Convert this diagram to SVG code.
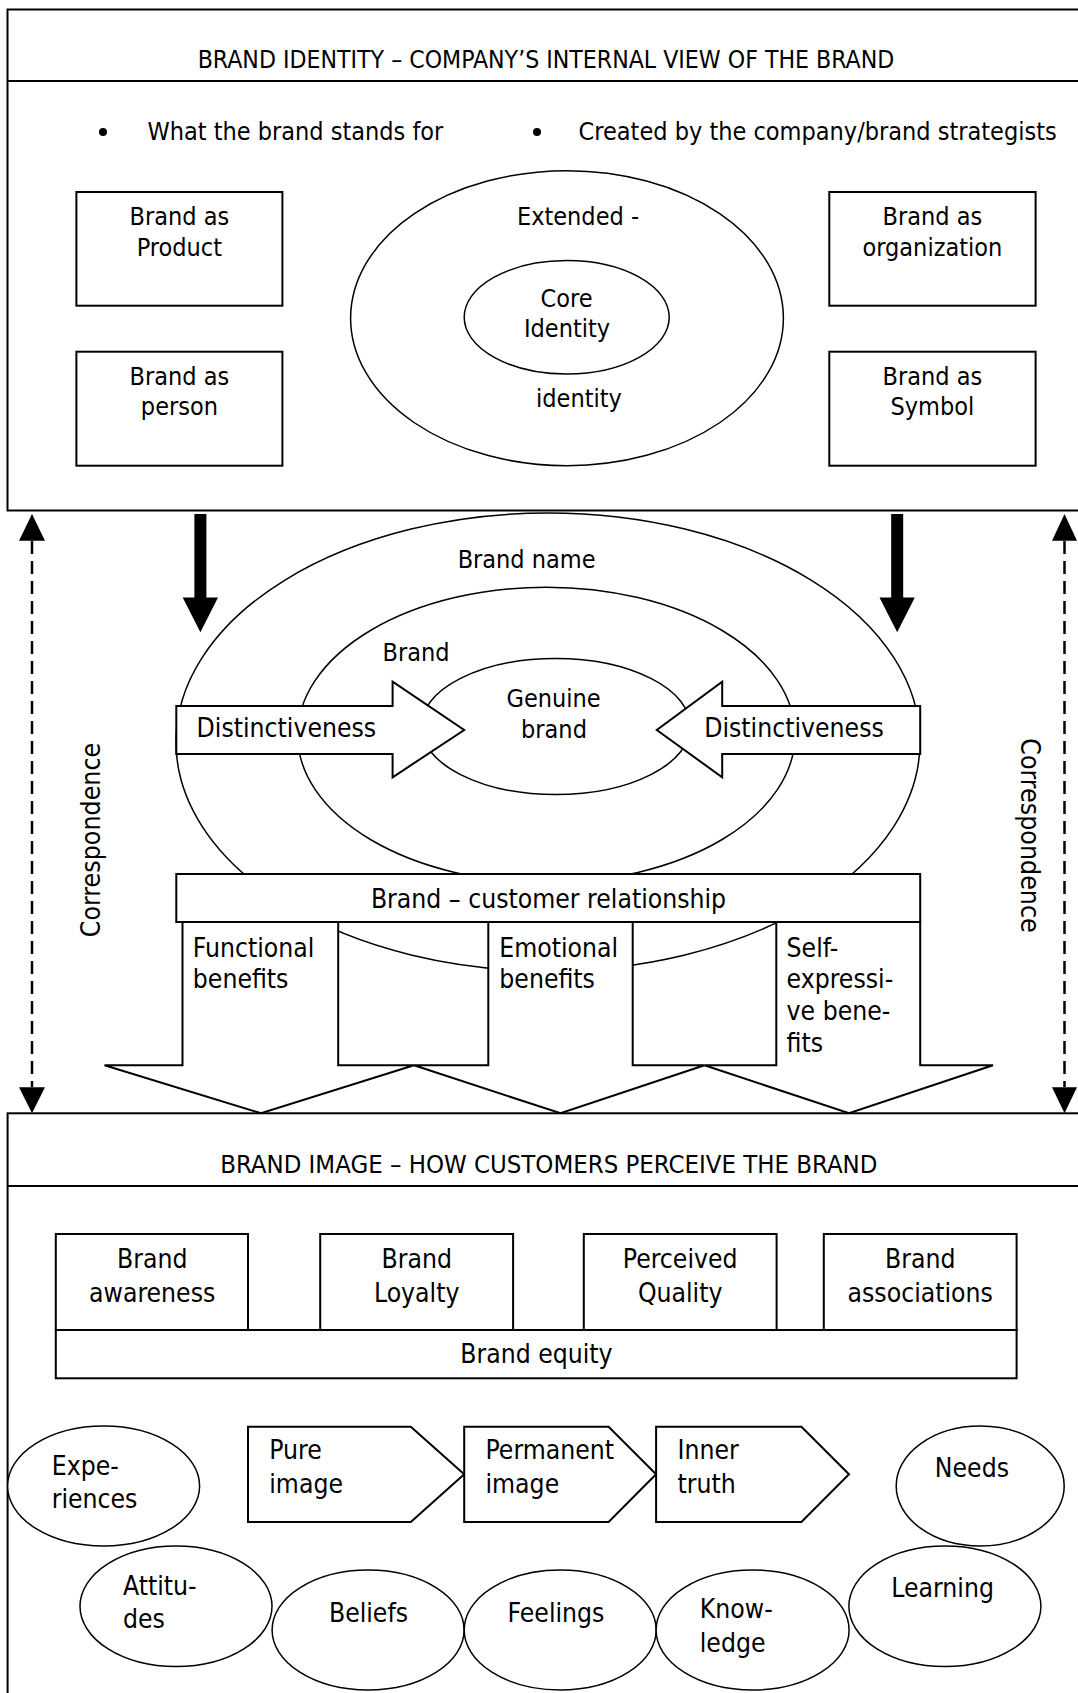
<svg xmlns="http://www.w3.org/2000/svg" width="1078" height="1693" viewBox="0 0 1078 1693">
<style>
text { font-family: 'DejaVu Sans Condensed', 'DejaVu Sans', sans-serif; font-stretch: condensed; font-size: 25px; fill: #000; }
.m { text-anchor: middle; }
.b { font-size: 26.3px; }
.box { fill: #fff; stroke: #000; stroke-width: 2; }
.ell { fill: none; stroke: #000; stroke-width: 1.5; }
.ellw { fill: #fff; stroke: #000; stroke-width: 1.5; }
.ln { stroke: #000; stroke-width: 2; fill: none; }
.dash { stroke: #000; stroke-width: 2.5; stroke-dasharray: 13 7; fill: none; }
.solid { fill: #000; stroke: none; }
</style>
<rect width="1078" height="1693" fill="#fff"/>

<g id="brand-identity">
  <rect class="box" x="7.5" y="9.5" width="1085" height="501"/>
  <line class="ln" x1="7.5" y1="81" x2="1090" y2="81"/>
  <text class="m" x="546" y="68.3" style="font-size:24.6px">BRAND IDENTITY – COMPANY’S INTERNAL VIEW OF THE BRAND</text>
  <circle cx="103" cy="132" r="4"/>
  <text x="147.4" y="140">What the brand stands for</text>
  <circle cx="537" cy="132" r="4"/>
  <text x="578.6" y="140">Created by the company/brand strategists</text>
</g>

<g id="brand-as-product">
  <rect class="box" x="76.4" y="192" width="206" height="113.7"/>
  <text class="m" x="179.4" y="225.3">Brand as</text>
  <text class="m" x="179.4" y="256">Product</text>
</g>
<g id="brand-as-person">
  <rect class="box" x="76.4" y="351.7" width="206" height="114"/>
  <text class="m" x="179.4" y="385">Brand as</text>
  <text class="m" x="179.4" y="415">person</text>
</g>
<g id="brand-as-organization">
  <rect class="box" x="829.3" y="192" width="206.3" height="113.7"/>
  <text class="m" x="932.4" y="225.3">Brand as</text>
  <text class="m" x="932.4" y="256">organization</text>
</g>
<g id="brand-as-symbol">
  <rect class="box" x="829.3" y="351.7" width="206.3" height="114"/>
  <text class="m" x="932.4" y="385">Brand as</text>
  <text class="m" x="932.4" y="415">Symbol</text>
</g>
<g id="extended-identity">
  <ellipse class="ell" cx="567" cy="318.2" rx="216.4" ry="147.5"/>
  <text class="m" x="578" y="225">Extended -</text>
  <text class="m" x="579" y="406.7">identity</text>
</g>
<g id="core-identity">
  <ellipse class="ell" cx="566.7" cy="317.3" rx="102.5" ry="56.7"/>
  <text class="m" x="566.6" y="306.7">Core</text>
  <text class="m" x="567" y="337.3">Identity</text>
</g>

<g id="brand-name">
  <ellipse class="ell" cx="548" cy="742" rx="372" ry="229"/>
  <text class="m" x="526.6" y="568.3">Brand name</text>
</g>
<g id="brand">
  <ellipse class="ell" cx="546.3" cy="735" rx="248.7" ry="147.8"/>
  <text class="m" x="416" y="660.7">Brand</text>
</g>
<g id="genuine-brand">
  <ellipse class="ell" cx="555.7" cy="726.5" rx="134.6" ry="68"/>
  <text class="m" x="553.6" y="706.7">Genuine</text>
  <text class="m" x="554" y="738.3">brand</text>
</g>
<g id="distinctiveness-left">
  <polygon class="box" points="176.3,706 392.6,706 392.6,681.7 464.2,730 392.6,777.3 392.6,754 176.3,754"/>
  <text class="m b" x="286.4" y="737">Distinctiveness</text>
</g>
<g id="distinctiveness-right">
  <polygon class="box" points="920.2,706 722.2,706 722.2,681.7 656.8,730 722.2,777.3 722.2,754 920.2,754"/>
  <text class="m b" x="794" y="737">Distinctiveness</text>
</g>
<g id="functional-benefits">
  <polygon class="box" points="182.5,922 338.2,922 338.2,1065.3 414,1065.3 261,1113.3 104.5,1065.3 182.5,1065.3"/>
  <text class="b" x="192.8" y="956.7">Functional</text>
  <text class="b" x="192.8" y="988.3">benefits</text>
</g>
<g id="emotional-benefits">
  <polygon class="box" points="488.3,922 632.7,922 632.7,1065.3 704.5,1065.3 560.5,1113.3 414,1065.3 488.3,1065.3"/>
  <text class="b" x="499.3" y="956.7">Emotional</text>
  <text class="b" x="499.3" y="988.3">benefits</text>
</g>
<g id="self-expressive-benefits">
  <polygon class="box" points="776.3,922 920.2,922 920.2,1065.3 993,1065.3 849,1113.3 704.5,1065.3 776.3,1065.3"/>
  <text class="b" x="786.6" y="956.7">Self-</text>
  <text class="b" x="786.6" y="988.3">expressi-</text>
  <text class="b" x="786.6" y="1020">ve bene-</text>
  <text class="b" x="786.6" y="1051.7">fits</text>
</g>
<g id="brand-customer-relationship">
  <rect class="box" x="176.3" y="874" width="743.9" height="48"/>
  <text class="m b" x="548.5" y="907.5">Brand – customer relationship</text>
</g>

<g id="brand-image">
  <rect class="box" x="7.6" y="1113.3" width="1085" height="600"/>
  <line class="ln" x1="7.6" y1="1186" x2="1090" y2="1186"/>
  <text class="m" x="548.8" y="1173.3" style="font-size:25.5px">BRAND IMAGE – HOW CUSTOMERS PERCEIVE THE BRAND</text>
</g>
<g id="brand-awareness">
  <rect class="box" x="55.8" y="1234" width="192.2" height="96"/>
  <text class="m b" x="152.2" y="1268.3">Brand</text>
  <text class="m b" x="152.2" y="1301.7">awareness</text>
</g>
<g id="brand-loyalty">
  <rect class="box" x="320.2" y="1234" width="192.9" height="96"/>
  <text class="m b" x="416.7" y="1268.3">Brand</text>
  <text class="m b" x="416.7" y="1301.7">Loyalty</text>
</g>
<g id="perceived-quality">
  <rect class="box" x="583.8" y="1234" width="192.8" height="96"/>
  <text class="m b" x="680.2" y="1268.3">Perceived</text>
  <text class="m b" x="680.2" y="1301.7">Quality</text>
</g>
<g id="brand-associations">
  <rect class="box" x="823.8" y="1234" width="192.8" height="96"/>
  <text class="m b" x="920.2" y="1268.3">Brand</text>
  <text class="m b" x="920.2" y="1301.7">associations</text>
</g>
<g id="brand-equity">
  <rect class="box" x="55.8" y="1330" width="960.8" height="48.3"/>
  <text class="m b" x="536.4" y="1363.3">Brand equity</text>
</g>
<g id="pure-image">
  <polygon class="box" points="248,1426.7 410.8,1426.7 464.2,1474.3 410.8,1522 248,1522"/>
  <text class="b" x="269.3" y="1459.3">Pure</text>
  <text class="b" x="269.3" y="1493.3">image</text>
</g>
<g id="permanent-image">
  <polygon class="box" points="464.2,1426.7 608.6,1426.7 656.1,1474.3 608.6,1522 464.2,1522"/>
  <text class="b" x="485.5" y="1459.3">Permanent</text>
  <text class="b" x="485.5" y="1493.3">image</text>
</g>
<g id="inner-truth">
  <polygon class="box" points="656.1,1426.7 801.4,1426.7 849,1474.3 801.4,1522 656.1,1522"/>
  <text class="b" x="677.5" y="1459.3">Inner</text>
  <text class="b" x="677.5" y="1493.3">truth</text>
</g>
<g id="experiences">
  <ellipse class="ellw" cx="103.6" cy="1486" rx="96" ry="60"/>
  <text class="b" x="51.7" y="1475">Expe-</text>
  <text class="b" x="51.7" y="1508.3">riences</text>
</g>
<g id="needs">
  <ellipse class="ellw" cx="980.2" cy="1486" rx="84" ry="60"/>
  <text class="m b" x="971.9" y="1476.7">Needs</text>
</g>
<g id="attitudes">
  <ellipse class="ellw" cx="176" cy="1606.3" rx="96" ry="60.3"/>
  <text class="b" x="123" y="1595">Attitu-</text>
  <text class="b" x="123" y="1627.7">des</text>
</g>
<g id="beliefs">
  <ellipse class="ellw" cx="368.1" cy="1630" rx="96" ry="60"/>
  <text class="m b" x="368.5" y="1621.7">Beliefs</text>
</g>
<g id="feelings">
  <ellipse class="ellw" cx="560.2" cy="1630" rx="96" ry="60"/>
  <text class="m b" x="556" y="1621.7">Feelings</text>
</g>
<g id="knowledge">
  <ellipse class="ellw" cx="752.6" cy="1630" rx="96.5" ry="60"/>
  <text class="b" x="699.8" y="1618.3">Know-</text>
  <text class="b" x="699.8" y="1651.7">ledge</text>
</g>
<g id="learning">
  <ellipse class="ellw" cx="944.9" cy="1606.3" rx="96" ry="60.3"/>
  <text class="m b" x="942.6" y="1596.7">Learning</text>
</g>

<g id="connectors">
  <polygon class="solid" points="194.4,514 206.4,514 206.4,597.5 218,597.5 200.4,632.3 182.7,597.5 194.4,597.5"/>
  <polygon class="solid" points="891.2,514 903.2,514 903.2,597.5 914.8,597.5 897.2,632.3 879.5,597.5 891.2,597.5"/>
  <line class="dash" x1="32" y1="541" x2="32" y2="1087"/>
  <polygon class="solid" points="32,514 19,540.7 45,540.7"/>
  <polygon class="solid" points="32,1113.3 19,1087.3 45,1087.3"/>
  <text class="m" style="font-size:26.5px" transform="translate(100,840) rotate(-90)">Correspondence</text>
  <line class="dash" x1="1064.5" y1="541" x2="1064.5" y2="1087"/>
  <polygon class="solid" points="1064.5,514 1052,540.7 1077,540.7"/>
  <polygon class="solid" points="1064.5,1113.3 1052,1087.3 1077,1087.3"/>
  <text class="m" style="font-size:26.5px" transform="translate(1020.5,835.5) rotate(90)">Correspondence</text>
</g>
</svg>
